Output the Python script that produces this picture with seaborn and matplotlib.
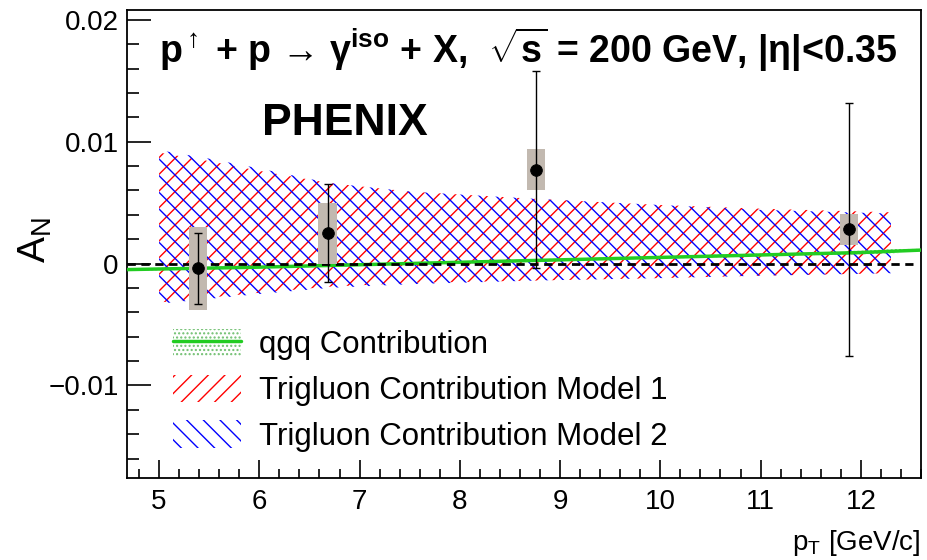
import numpy as np
import pandas as pd
import matplotlib
matplotlib.use("Agg")
import matplotlib.pyplot as plt
import seaborn as sns
from matplotlib.patches import Patch, Rectangle
from matplotlib.lines import Line2D
from matplotlib.ticker import MultipleLocator

# data points (PHENIX direct photon A_N)
pt = [5.39, 6.68, 8.76, 11.88]
an = [-0.0004, 0.0025, 0.0077, 0.0028]
stat_err = [0.0029, 0.0040, 0.0081, 0.0104]
sys_err = [0.0034, 0.0025, 0.0017, 0.0013]

# trigluon bands (model 1 and model 2)
band_pt = [5.0, 5.5, 6.0, 6.7, 7.5, 8.76, 10.0, 11.0, 12.3]
m1_hi = [0.0091, 0.0084, 0.0076, 0.0066, 0.0059, 0.0053, 0.0048, 0.0045, 0.0042]
m1_lo = [-0.0032, -0.0028, -0.0024, -0.0019, -0.0016, -0.0014, -0.0012, -0.0010, -0.0008]
m2_hi = [0.0093, 0.0086, 0.0078, 0.0066, 0.0059, 0.0053, 0.0048, 0.0044, 0.0041]
m2_lo = [-0.0033, -0.0029, -0.0025, -0.0020, -0.0017, -0.0014, -0.0012, -0.0010, -0.0008]

# qgq contribution
qgq_pt = [4.68, 6.0, 7.0, 8.0, 9.0, 10.0, 11.0, 12.0, 12.6]
qgq = [-0.0005, -0.0003, -0.0001, 0.0001, 0.0003, 0.0005, 0.0007, 0.0009, 0.0011]
qgq_w = [0.0001, 0.0001, 0.0001, 0.0001, 0.0001, 0.0001, 0.00012, 0.00015, 0.00018]

sns.set_theme(style="ticks")
plt.rcParams["font.family"] = ["Liberation Sans", "DejaVu Sans"]
plt.rcParams["mathtext.fontset"] = "custom"
plt.rcParams["mathtext.rm"] = "Liberation Sans"
plt.rcParams["mathtext.it"] = "Liberation Sans:italic"
plt.rcParams["mathtext.bf"] = "Liberation Sans:bold"
plt.rcParams["hatch.linewidth"] = 1.0
plt.rcParams["text.color"] = "black"
plt.rcParams["axes.labelcolor"] = "black"

fig = plt.figure(figsize=(9.27, 5.6), dpi=100)
ax = fig.add_axes([127 / 927, 82 / 560, 794 / 927, 468 / 560])

# bands
ax.fill_between(band_pt, m1_lo, m1_hi, facecolor="none", edgecolor="red",
                hatch="//", linewidth=0, zorder=2)
ax.fill_between(band_pt, m2_lo, m2_hi, facecolor="none", edgecolor="blue",
                hatch="\\\\", linewidth=0, zorder=2)

# qgq band and line
qlo = np.array(qgq) - np.array(qgq_w)
qhi = np.array(qgq) + np.array(qgq_w)
ax.fill_between(qgq_pt, qlo, qhi, facecolor="none", edgecolor="#6fbf6f",
                hatch="....", linewidth=0, zorder=3)
sns.lineplot(x=qgq_pt, y=qgq, color="#22cc22", linewidth=2.5, ax=ax, zorder=4)

# zero line
ax.axhline(0, xmin=0, xmax=0.99, color="black", linestyle=(0, (3, 2)), linewidth=2, zorder=5)

# systematic boxes
for x, y, s in zip(pt, an, sys_err):
    ax.add_patch(Rectangle((x - 0.09, y - s), 0.18, 2 * s, facecolor="#c2b9b0",
                           edgecolor="none", zorder=6))

ax.errorbar(pt, an, yerr=stat_err, fmt="none", ecolor="black", elinewidth=1,
            capsize=3, capthick=1, zorder=7)
df = pd.DataFrame({"pt": pt, "an": an})
sns.scatterplot(data=df, x="pt", y="an", color="black", s=70, edgecolor="black",
                ax=ax, zorder=8)

ax.set_xlim(4.68, 12.6)
ax.set_ylim(-0.0176, 0.0208)
ax.xaxis.set_major_locator(MultipleLocator(1))
ax.xaxis.set_minor_locator(MultipleLocator(0.2))
ax.yaxis.set_major_locator(MultipleLocator(0.01))
ax.yaxis.set_minor_locator(MultipleLocator(0.002))
ax.set_yticks([-0.01, 0, 0.01, 0.02])
ax.set_yticklabels(["\u22120.01", "0", "0.01", "0.02"])
ax.tick_params(axis="both", which="both", direction="in", labelsize=20, colors="black",
               top=False, right=False)
ax.tick_params(axis="y", which="major", length=17, width=1.2, pad=6)
ax.tick_params(axis="y", which="minor", length=8.5, width=1.2)
ax.tick_params(axis="x", which="major", length=13, width=1.2, pad=8)
ax.tick_params(axis="x", which="minor", length=6.5, width=1.2)
for sp in ax.spines.values():
    sp.set_linewidth(1.3)
    sp.set_color("black")

ax.set_xlabel("")
ax.set_ylabel("")
fig.text(35 / 927, 1 - 240 / 560, r"A$_\mathrm{N}$", rotation=90, fontsize=28,
         ha="center", va="center")
fig.text(921 / 927, 1 - 543 / 560, r"p$_\mathrm{T}$ [GeV/c]", fontsize=20,
         ha="right", va="center")

ax.text(0.04, 0.915,
        "p$^{\\uparrow}$ + p \u2192 \u03b3$^{\\mathbf{iso}}$ + X,  $\\sqrt{\\mathbf{s}}$ = 200 GeV, |\u03b7|<0.35",
        transform=ax.transAxes, fontsize=27, fontweight="bold", ha="left", va="center")
ax.text(0.2746, 0.757, "PHENIX", transform=ax.transAxes, fontsize=32,
        fontweight="bold", ha="center", va="center")

# legend
h_qgq = (Patch(facecolor="none", edgecolor="#6fbf6f", hatch="....", linewidth=0),
         Line2D([], [], color="#22cc22", linewidth=2.5))
h_m1 = Patch(facecolor="none", edgecolor="red", hatch="//", linewidth=0)
h_m2 = Patch(facecolor="none", edgecolor="blue", hatch="\\\\", linewidth=0)
ax.legend([h_qgq, h_m1, h_m2],
          ["qgq Contribution", "Trigluon Contribution Model 1", "Trigluon Contribution Model 2"],
          loc="upper left", bbox_to_anchor=(0.022, 0.379), frameon=False, fontsize=22.5,
          handlelength=2.2, handleheight=1.0, labelspacing=0.45, handletextpad=0.55)

fig.savefig("out.png", dpi=100)
